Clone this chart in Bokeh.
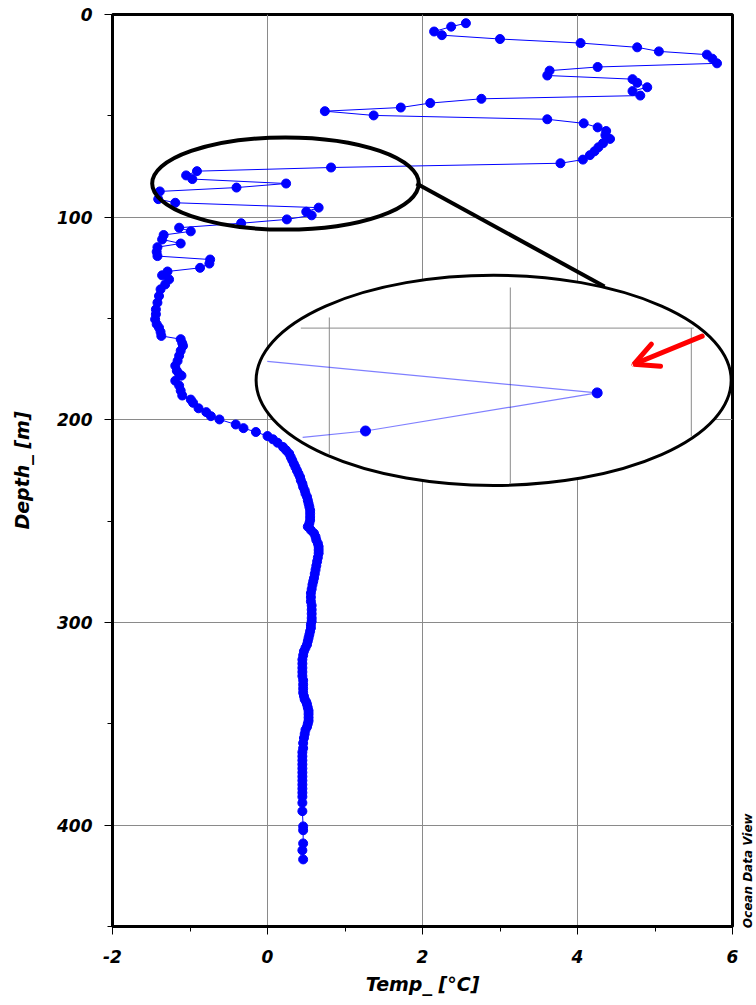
import math
from bokeh.plotting import figure
from bokeh.models import Range1d, FixedTicker, Arrow, OpenHead, Label
from bokeh.embed import file_html
from bokeh.resources import INLINE

# ---------------- data ----------------
depth = [4.3, 6.0, 8.4, 10.2, 12.1, 14.1, 16.2, 18.2, 19.8, 21.8, 24.1, 25.9, 27.7, 30.1,
         31.9, 33.7, 35.9, 37.8, 40.0, 41.6, 43.7, 45.9, 47.7, 49.8, 51.7, 53.7, 55.7, 57.5,
         59.5, 61.4, 63.5, 65.5, 67.5, 69.4, 71.6, 73.4, 75.5, 77.3, 79.4, 81.2, 83.4, 85.4,
         87.3, 91.1, 92.9, 95.3, 97.3, 99.1, 101.1, 103.0, 105.2, 107.0, 108.8, 111.0, 113.0,
         114.8, 117.1, 119.2, 120.9, 122.9, 125.0, 126.8, 128.7, 130.7, 133.2, 135.6, 138.9,
         142.2, 145.5, 147.9, 150.4, 152.8, 154.5, 156.6, 158.6, 160.2, 162.2, 163.5, 165.9,
         168.4, 170.9, 173.3, 175.8, 177.4, 178.2, 180.7, 183.1, 185.6, 188.0, 190.0, 191.6,
         194.3, 196.2, 198.2, 199.8, 202.3, 204.1, 206.0, 208.0, 209.6, 211.3, 213.4, 215.0,
         216.7, 218.4, 220.0, 221.7, 223.3, 225.0, 226.6, 228.2, 229.8, 231.5, 233.1, 234.8,
         236.4, 238.0, 239.7, 241.3, 242.9, 244.6, 246.2, 247.9, 249.5, 251.1, 252.7, 254.4,
         256.0, 257.7, 259.3, 261.0, 262.6, 264.2, 265.8, 267.9, 269.9, 272.0, 274.0, 276.0,
         278.1, 279.7, 281.4, 283.5, 285.5, 287.5, 289.6, 291.6, 293.7, 295.7, 297.8, 299.4,
         301.1, 302.7, 304.3, 306.0, 307.6, 309.2, 310.9, 312.5, 314.2, 316.2, 318.3, 320.3,
         322.4, 324.4, 326.4, 328.5, 330.6, 332.6, 334.6, 336.3, 337.9, 339.2, 340.4, 342.0,
         343.6, 345.2, 346.9, 348.5, 350.0, 351.5, 353.0, 355.0, 357.0, 359.5, 362.0, 364.0,
         366.0, 368.0, 370.0, 372.0, 374.0, 376.0, 378.0, 380.0, 382.0, 384.0, 386.0, 389.0,
         393.1, 400.6, 402.5, 409.0, 412.4, 416.9]
temp = [2.56, 2.37, 2.15, 2.25, 3.00, 4.04, 4.77, 5.05, 5.67, 5.74, 5.80, 4.26, 3.64, 3.61,
        4.71, 4.77, 4.90, 4.71, 4.81, 2.76, 2.10, 1.72, 0.74, 1.37, 3.61, 4.08, 4.26, 4.37,
        4.36, 4.42, 4.33, 4.27, 4.22, 4.16, 4.07, 3.78, 0.82, -0.91, -1.05, -0.97, 0.24, -0.40,
        -1.39, -1.41, -1.19, 0.66, 0.50, 0.57, 0.25, -0.34, -1.14, -0.99, -1.34, -1.36, -1.12,
        -1.42, -1.43, -1.42, -0.74, -0.75, -0.87, -1.29, -1.36, -1.27, -1.32, -1.38, -1.40,
        -1.42, -1.44, -1.44, -1.45, -1.43, -1.40, -1.38, -1.37, -1.12, -1.10, -1.09, -1.12,
        -1.14, -1.16, -1.19, -1.17, -1.14, -1.11, -1.19, -1.14, -1.12, -1.10, -0.99, -0.96,
        -0.89, -0.79, -0.73, -0.62, -0.41, -0.31, -0.15, 0.00, 0.07, 0.13, 0.20, 0.24,
        0.28, 0.30, 0.32, 0.34, 0.36, 0.38, 0.40, 0.42, 0.43, 0.45, 0.46, 0.48,
        0.49, 0.51, 0.52, 0.53, 0.54, 0.55, 0.55, 0.55, 0.55, 0.54, 0.52, 0.56,
        0.60, 0.62, 0.63, 0.65, 0.66, 0.66, 0.66, 0.65, 0.64, 0.63, 0.62, 0.61,
        0.60, 0.59, 0.58, 0.57, 0.56, 0.56, 0.56, 0.57, 0.57, 0.57, 0.57, 0.57,
        0.56, 0.56, 0.55, 0.54, 0.53, 0.52, 0.51, 0.49, 0.47, 0.46, 0.45, 0.45,
        0.45, 0.45, 0.45, 0.46, 0.46, 0.46, 0.46, 0.47, 0.48, 0.50, 0.51, 0.52,
        0.53, 0.53, 0.53, 0.53, 0.52, 0.51, 0.49, 0.48, 0.47, 0.46, 0.46, 0.45,
        0.45, 0.45, 0.45, 0.45, 0.45, 0.45, 0.45, 0.45, 0.45, 0.45, 0.45, 0.45,
        0.45, 0.46, 0.46, 0.46, 0.45, 0.46]

x_major = [-2, 0, 2, 4, 6]
x_minor = [-1, 1, 3, 5]
y_major = [0, 100, 200, 300, 400]
y_minor = [50, 150, 250, 350, 450]
x_tick_text = {-2: "-2", 0: "0", 2: "2", 4: "4", 6: "6"}

x_title = "Temp_ [°C]"
y_title = "Depth_ [m]"
credit = "Ocean Data View"

# index of the highlighted spike shown magnified in the inset
spike = 40

FONT = "DejaVu Sans"
BLUE = "#0000ff"
GRID = "#8a8a8a"

p = figure(width=756, height=997, x_range=Range1d(-2, 6), y_range=Range1d(450, 0),
           output_backend="svg", toolbar_location=None,
           min_border_left=112, min_border_right=24, min_border_top=14, min_border_bottom=68)
p.background_fill_color = "white"
p.border_fill_color = "white"
p.outline_line_color = "black"
p.outline_line_width = 3

for ax, mj, mn in ((p.xaxis[0], x_major, x_minor), (p.yaxis[0], y_major, y_minor)):
    ax.ticker = FixedTicker(ticks=mj, minor_ticks=mn)
    ax.axis_line_width = 3
    ax.axis_line_color = "black"
    ax.major_tick_in = 0
    ax.major_tick_out = 8
    ax.minor_tick_in = 0
    ax.minor_tick_out = 5
    ax.major_tick_line_color = "black"
    ax.minor_tick_line_color = "black"
    ax.major_label_text_font = FONT
    ax.major_label_text_font_style = "bold italic"
    ax.major_label_text_font_size = "17px"
    ax.major_label_text_color = "black"
    ax.axis_label_text_font = FONT
    ax.axis_label_text_font_style = "bold italic"
    ax.axis_label_text_font_size = "19px"
    ax.axis_label_text_color = "black"

p.xaxis.major_label_overrides = x_tick_text
p.xaxis.axis_label = x_title
p.yaxis.axis_label = y_title
p.xaxis.major_label_standoff = 15
p.xaxis.axis_label_standoff = 7
p.yaxis.major_label_standoff = 12
p.yaxis.axis_label_standoff = 21

p.xgrid.ticker = FixedTicker(ticks=x_major)
p.ygrid.ticker = FixedTicker(ticks=y_major)
p.grid.grid_line_color = GRID
p.grid.grid_line_width = 1

# credit text, placed in the right-hand side panel so that it is not clipped by the frame
p.add_layout(Label(x=6.206, y=422.5, text=credit, angle=math.pi / 2,
                   text_align="center", text_baseline="middle",
                   text_font=FONT, text_font_style="bold italic",
                   text_font_size="12px", text_color="black"), "right")

# ---------------- big (inset) ellipse ----------------
BX, BY, BW, BH = 2.918, 180.5, 6.13, 103.7
p.ellipse(x=[BX], y=[BY], width=[BW], height=[BH], fill_color="white",
          line_color="black", line_width=3)


def inside(x, y, s=0.97):
    return ((x - BX) / (BW / 2 * s)) ** 2 + ((y - BY) / (BH / 2 * s)) ** 2 <= 1.0


def cross(x0, y0, x1, y1, s=0.97):
    a, b = BW / 2 * s, BH / 2 * s
    u0, v0 = (x0 - BX) / a, (y0 - BY) / b
    u1, v1 = (x1 - BX) / a, (y1 - BY) / b
    du, dv = u1 - u0, v1 - v0
    A = du * du + dv * dv
    B = 2 * (u0 * du + v0 * dv)
    C = u0 * u0 + v0 * v0 - 1
    r = math.sqrt(max(B * B - 4 * A * C, 0))
    ts = [t for t in ((-B - r) / (2 * A), (-B + r) / (2 * A)) if 0 <= t <= 1]
    t = ts[0]
    return x0 + t * (x1 - x0), y0 + t * (y1 - y0)


# inset magnification around the spike
AX, AY = 4.254, 186.7     # where the spike sits in the inset
KX, KY = 4.671, 9.4       # magnification factors
T0, D0 = temp[spike], depth[spike]


def to_inset(t, d):
    return AX + KX * (t - T0), AY + KY * (d - D0)


# inset grid (gray)
inset_vt = [-0.5, 0.0, 0.5]
inset_vtop = [149.5, 134.7, None]
hy = to_inset(0, 80)[1]
p.segment(x0=[0.43], y0=[hy], x1=[5.5], y1=[hy], line_color=GRID, line_width=1)
for tv, top in zip(inset_vt, inset_vtop):
    gx = to_inset(tv, D0)[0]
    y_top = top if top is not None else hy
    a, b = BW / 2 * 0.99, BH / 2 * 0.99
    ybot = BY + b * math.sqrt(max(1 - ((gx - BX) / a) ** 2, 0))
    p.segment(x0=[gx], y0=[y_top], x1=[gx], y1=[ybot], line_color=GRID, line_width=1)

# inset profile (magnified, clipped to the ellipse)
pts = [to_inset(temp[i], depth[i]) for i in range(spike - 1, spike + 3)]
lx, ly = [], []
for (x0, y0), (x1, y1) in zip(pts[:-1], pts[1:]):
    in0, in1 = inside(x0, y0), inside(x1, y1)
    if in0 and in1:
        if not lx:
            lx.append(x0); ly.append(y0)
        lx.append(x1); ly.append(y1)
    elif in1 and not in0:
        cx_, cy_ = cross(x0, y0, x1, y1)
        lx += [cx_, x1]; ly += [cy_, y1]
    elif in0 and not in1:
        cx_, cy_ = cross(x1, y1, x0, y0)
        if not lx:
            lx.append(x0); ly.append(y0)
        lx.append(cx_); ly.append(cy_)
p.line(lx, ly, line_color=BLUE, line_alpha=0.5, line_width=1.2)
dots = [q for q in pts if inside(*q)]
p.scatter([q[0] for q in dots], [q[1] for q in dots], size=10, fill_color=BLUE,
          line_color=BLUE)

# ---------------- main profile ----------------
p.line(temp, depth, line_color=BLUE, line_width=1)
p.scatter(temp, depth, size=9, fill_color=BLUE, line_color=BLUE)

# ---------------- small ellipse + connector ----------------
SX, SY, SW, SH = 0.232, 83.4, 3.44, 45.5
p.ellipse(x=[SX], y=[SY], width=[SW], height=[SH], fill_color=None,
          line_color="black", line_width=4)
p.line([SX + SW / 2 - 0.03, 4.348], [SY, 134.2], line_color="black", line_width=4)

# ---------------- red arrow ----------------
p.add_layout(Arrow(end=OpenHead(size=24, line_color="#ff0000", line_width=5, line_cap="round"),
                   x_start=5.609, y_start=158.7, x_end=4.726, y_end=172.6,
                   line_color="#ff0000", line_width=5, line_cap="round"))

open("out.html", "w").write(file_html(p, INLINE))
